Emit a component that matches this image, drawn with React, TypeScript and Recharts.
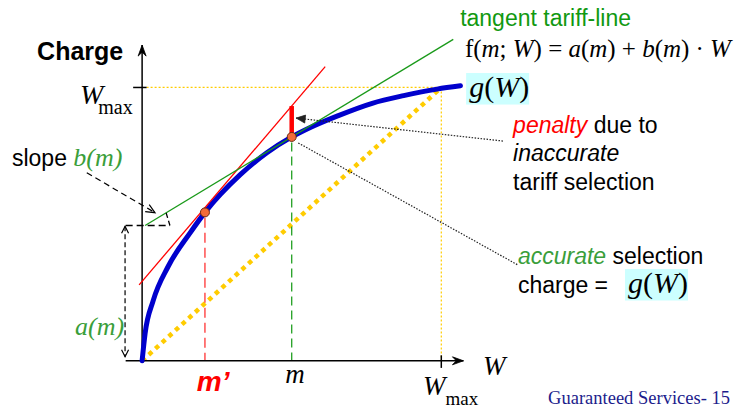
import React from 'react';
import { ComposedChart, XAxis, YAxis, Line, ReferenceLine, ReferenceDot } from 'recharts';

// Units: W and Charge both scaled so that W_max = 10
const X_DOMAIN: [number, number] = [-4.75, 19.85];
const Y_DOMAIN: [number, number] = [-1.8, 13.2];

// Accurate charge curve g(W)
const chargeW = [0, 0.1, 0.37, 0.87, 1.61, 2.1, 3.28, 4.17, 5.0, 5.55, 6.56, 7.69, 8.74, 9.86, 10.64];
const chargeG = [0, 1.0, 2.2, 3.45, 4.69, 5.43, 6.81, 7.61, 8.19, 8.5, 8.97, 9.42, 9.7, 9.94, 10.06];

const W_MAX = 10;
const M_PRIME = 2.1;
const G_M_PRIME = 5.43;
const M = 5.0;
const G_M = 8.19;
const A_M = 4.95;
const PENALTY_TOP = 9.32;

// Tangent tariff lines: [start, end]
const redTangentW = [-0.1, 6.12];
const redTangentC = [2.78, 10.76];
const greenTangentW = [0.1, 10.4];
const greenTangentC = [A_M, 11.76];

const curveData = chargeW.map((w, i) => ({ w, c: chargeG[i] }));

const SERIF = '"Liberation Serif", "Times New Roman", serif';
const SANS = '"Liberation Sans", Arial, sans-serif';
const GREEN_TEXT = '#3a9e3a';
const GREEN = '#1a9a1a';
const YELLOW = '#ffcc00';
const CYAN_BOX = '#ccffff';

type Head = 'none' | 'stealth' | 'open' | 'filled';

function headPath(x: number, y: number, ux: number, uy: number, kind: Head, len: number, half: number) {
  const bx = x - ux * len;
  const by = y - uy * len;
  const px = -uy;
  const py = ux;
  const lx = bx + px * half;
  const ly = by + py * half;
  const rx = bx - px * half;
  const ry = by - py * half;
  if (kind === 'stealth') {
    const nx = x - ux * len * 0.65;
    const ny = y - uy * len * 0.65;
    return { d: `M${x},${y} L${lx},${ly} L${nx},${ny} L${rx},${ry} Z`, filled: true };
  }
  if (kind === 'filled') {
    return { d: `M${x},${y} L${lx},${ly} L${rx},${ry} Z`, filled: true };
  }
  return { d: `M${lx},${ly} L${x},${y} L${rx},${ry}`, filled: false };
}

function arrowShape(start: Head, end: Head, len = 10, half = 4) {
  return (p: any) => {
    const { x1, y1, x2, y2, stroke, strokeWidth, strokeDasharray } = p;
    const dx = x2 - x1;
    const dy = y2 - y1;
    const L = Math.sqrt(dx * dx + dy * dy) || 1;
    const ux = dx / L;
    const uy = dy / L;
    const heads: any[] = [];
    if (end !== 'none') heads.push(headPath(x2, y2, ux, uy, end, len, half));
    if (start !== 'none') heads.push(headPath(x1, y1, -ux, -uy, start, len, half));
    return (
      <g>
        <line x1={x1} y1={y1} x2={x2} y2={y2} stroke={stroke} strokeWidth={strokeWidth} strokeDasharray={strokeDasharray} />
        {heads.map((h, i) => (
          <path
            key={i}
            d={h.d}
            fill={h.filled ? stroke : 'none'}
            stroke={stroke}
            strokeWidth={h.filled ? 0.8 : 1.2}
            strokeLinejoin="miter"
          />
        ))}
      </g>
    );
  };
}

const textAt = (render: (x: number, y: number) => React.ReactNode) => (p: any) => <g>{render(p.cx, p.cy)}</g>;

const gOfW = (x: number, y: number, size: number, boxW: number) => (
  <g>
    <rect x={x - 3} y={y - size * 0.8} width={boxW} height={size * 1.05} fill={CYAN_BOX} />
    <text x={x} y={y} fontFamily={SERIF} fontSize={size} fill="#000">
      <tspan fontStyle="italic">g</tspan>
      <tspan>(</tspan>
      <tspan fontStyle="italic">W</tspan>
      <tspan>)</tspan>
    </text>
  </g>
);

export default function App() {
  const seg = (x1: number, y1: number, x2: number, y2: number) => [
    { x: x1, y: y1 },
    { x: x2, y: y2 },
  ];
  return (
    <div style={{ position: 'absolute', left: 0, top: 0, width: 736, height: 410, background: '#fff' }}>
      <ComposedChart width={736} height={410} margin={{ top: 0, right: 0, bottom: 0, left: 0 }}>
        <XAxis type="number" dataKey="w" domain={X_DOMAIN} hide allowDataOverflow />
        <YAxis type="number" dataKey="c" domain={Y_DOMAIN} hide allowDataOverflow />

        {/* W_max guides and linear charge */}
        <ReferenceLine segment={seg(0.15, W_MAX, W_MAX, W_MAX)} stroke={YELLOW} strokeWidth={1.2} strokeDasharray="2 2" ifOverflow="visible" />
        <ReferenceLine segment={seg(W_MAX, W_MAX, W_MAX, 0)} stroke={YELLOW} strokeWidth={1.2} strokeDasharray="2 2" ifOverflow="visible" />
        <ReferenceLine segment={seg(0, 0, 9.9, 9.9)} stroke={YELLOW} strokeWidth={4.5} strokeDasharray="4.5 4.5" ifOverflow="visible" />

        {/* drop lines at m' and m */}
        <ReferenceLine segment={seg(M_PRIME, G_M_PRIME - 0.2, M_PRIME, 0)} stroke="#ff3333" strokeWidth={1.3} strokeDasharray="10 5" ifOverflow="visible" />
        <ReferenceLine segment={seg(M, G_M - 0.2, M, 0)} stroke="#22a022" strokeWidth={1.3} strokeDasharray="9 5" ifOverflow="visible" />

        {/* axes */}
        <ReferenceLine segment={seg(-0.55, 0, 10.74, 0)} stroke="#000" strokeWidth={1.5} shape={arrowShape('none', 'stealth', 11, 4)} ifOverflow="visible" />
        <ReferenceLine segment={seg(0, 0, 0, 11.55)} stroke="#000" strokeWidth={1.5} shape={arrowShape('none', 'stealth', 11, 4)} ifOverflow="visible" />
        <ReferenceLine segment={seg(-0.3, W_MAX, 0.15, W_MAX)} stroke="#000" strokeWidth={1.5} ifOverflow="visible" />
        <ReferenceLine segment={seg(W_MAX, -0.26, W_MAX, 0.2)} stroke="#000" strokeWidth={1.5} ifOverflow="visible" />

        {/* accurate charge curve */}
        <Line
          data={curveData}
          dataKey="c"
          type="monotone"
          stroke="#0000cc"
          strokeWidth={5}
          strokeLinecap="round"
          dot={false}
          activeDot={false}
          isAnimationActive={false}
        />

        {/* tangent tariff lines */}
        <ReferenceLine segment={seg(redTangentW[0], redTangentC[0], redTangentW[1], redTangentC[1])} stroke="#ff0000" strokeWidth={1.3} ifOverflow="visible" />
        <ReferenceLine segment={seg(greenTangentW[0], greenTangentC[0], greenTangentW[1], greenTangentC[1])} stroke={GREEN} strokeWidth={1.3} ifOverflow="visible" />

        {/* penalty */}
        <ReferenceLine segment={seg(M, G_M, M, PENALTY_TOP)} stroke="#ff0000" strokeWidth={4.5} ifOverflow="visible" />

        {/* a(m) and slope annotations */}
        <ReferenceLine segment={seg(-0.55, A_M, 0.93, A_M)} stroke="#000" strokeWidth={1.3} strokeDasharray="7 4" ifOverflow="visible" />
        <ReferenceLine segment={seg(0.93, A_M, 0.8, 5.42)} stroke="#000" strokeWidth={1.3} strokeDasharray="5 3" ifOverflow="visible" />
        <ReferenceLine segment={seg(-0.57, A_M - 0.03, -0.57, 0.15)} stroke="#000" strokeWidth={1.2} strokeDasharray="5 3" shape={arrowShape('open', 'open', 7, 3.5)} ifOverflow="visible" />
        <ReferenceLine segment={seg(-1.85, 6.88, 0.43, 5.42)} stroke="#000" strokeWidth={1.2} strokeDasharray="6 4" shape={arrowShape('none', 'open', 9, 4)} ifOverflow="visible" />

        {/* leaders */}
        <ReferenceLine segment={seg(12.06, 8.04, 5.15, 8.88)} stroke="#222" strokeWidth={1.2} strokeDasharray="1.5 1.5" shape={arrowShape('none', 'filled', 9, 4)} ifOverflow="visible" />
        <ReferenceLine segment={seg(5.22, 7.97, 12.57, 3.5)} stroke="#222" strokeWidth={1.2} strokeDasharray="1.5 1.5" ifOverflow="visible" />

        {/* tangent points */}
        <ReferenceDot x={M_PRIME} y={G_M_PRIME} r={4.5} fill="#f26b3a" stroke="#6b2a12" strokeWidth={1} ifOverflow="visible" />
        <ReferenceDot x={M} y={G_M} r={4.5} fill="#f26b3a" stroke="#6b2a12" strokeWidth={1} ifOverflow="visible" />

        {/* text */}
        <ReferenceDot x={-3.51} y={11.01} r={0} ifOverflow="visible" shape={textAt((x, y) => (
          <text x={x} y={y} fontFamily={SANS} fontWeight="bold" fontSize={25} fill="#000">Charge</text>
        ))} />
        <ReferenceDot x={-2.08} y={9.4} r={0} ifOverflow="visible" shape={textAt((x, y) => (
          <text x={x} y={y} fontFamily={SERIF} fill="#000">
            <tspan fontStyle="italic" fontSize={28}>W</tspan>
            <tspan fontSize={20} dx={-5} dy={10}>max</tspan>
          </text>
        ))} />
        <ReferenceDot x={9.39} y={-1.26} r={0} ifOverflow="visible" shape={textAt((x, y) => (
          <text x={x} y={y} fontFamily={SERIF} fill="#000">
            <tspan fontStyle="italic" fontSize={27}>W</tspan>
            <tspan fontSize={19} dy={10}>max</tspan>
          </text>
        ))} />
        <ReferenceDot x={11.39} y={-0.52} r={0} ifOverflow="visible" shape={textAt((x, y) => (
          <text x={x} y={y} fontFamily={SERIF} fontStyle="italic" fontSize={27} fill="#000">W</text>
        ))} />
        <ReferenceDot x={-4.35} y={7.13} r={0} ifOverflow="visible" shape={textAt((x, y) => (
          <text x={x} y={y}>
            <tspan fontFamily={SANS} fontSize={23} fill="#000">slope </tspan>
            <tspan fontFamily={SERIF} fontStyle="italic" fontSize={26} fill={GREEN_TEXT}>b(m)</tspan>
          </text>
        ))} />
        <ReferenceDot x={-2.24} y={0.94} r={0} ifOverflow="visible" shape={textAt((x, y) => (
          <text x={x} y={y} fontFamily={SERIF} fontStyle="italic" fontSize={26} fill={GREEN_TEXT}>a(m)</text>
        ))} />
        <ReferenceDot x={1.83} y={-1.1} r={0} ifOverflow="visible" shape={textAt((x, y) => (
          <text x={x} y={y} fontFamily={SANS} fontStyle="italic" fontWeight="bold" fontSize={28} fill="#ff0000">m’</text>
        ))} />
        <ReferenceDot x={4.78} y={-0.81} r={0} ifOverflow="visible" shape={textAt((x, y) => (
          <text x={x} y={y} fontFamily={SERIF} fontStyle="italic" fontSize={27} fill="#000">m</text>
        ))} />
        <ReferenceDot x={13.57} y={-1.58} r={0} ifOverflow="visible" shape={textAt((x, y) => (
          <text x={x} y={y} fontFamily={SERIF} fontSize={18.5} fill="#1c1c8c">Guaranteed Services- 15</text>
        ))} />
        <ReferenceDot x={10.63} y={12.25} r={0} ifOverflow="visible" shape={textAt((x, y) => (
          <text x={x} y={y} fontFamily={SANS} fontSize={23} fill="#119911">tangent tariff-line</text>
        ))} />
        <ReferenceDot x={10.79} y={11.12} r={0} ifOverflow="visible" shape={textAt((x, y) => (
          <text x={x} y={y} fontFamily={SERIF} fontSize={25} fill="#000" textLength={266} lengthAdjust="spacing">
            <tspan>f(</tspan>
            <tspan fontStyle="italic">m</tspan>
            <tspan>; </tspan>
            <tspan fontStyle="italic">W</tspan>
            <tspan>)  =  </tspan>
            <tspan fontStyle="italic">a</tspan>
            <tspan>(</tspan>
            <tspan fontStyle="italic">m</tspan>
            <tspan>)  +  </tspan>
            <tspan fontStyle="italic">b</tspan>
            <tspan>(</tspan>
            <tspan fontStyle="italic">m</tspan>
            <tspan>)  ·  </tspan>
            <tspan fontStyle="italic">W</tspan>
          </text>
        ))} />
        <ReferenceDot x={10.93} y={9.65} r={0} ifOverflow="visible" shape={textAt((x, y) => gOfW(x, y, 30, 63))} />
        <ReferenceDot x={12.4} y={8.34} r={0} ifOverflow="visible" shape={textAt((x, y) => (
          <text x={x} y={y} fontFamily={SANS} fontSize={23} fill="#000">
            <tspan fill="#ff0000" fontStyle="italic">penalty</tspan>
            <tspan> due to</tspan>
            <tspan x={x} dy={28.5} fontStyle="italic">inaccurate</tspan>
            <tspan x={x} dy={28.5}>tariff selection</tspan>
          </text>
        ))} />
        <ReferenceDot x={12.56} y={3.54} r={0} ifOverflow="visible" shape={textAt((x, y) => (
          <text x={x} y={y} fontFamily={SANS} fontSize={23} fill="#000">
            <tspan fill={GREEN_TEXT} fontStyle="italic">accurate</tspan>
            <tspan> selection</tspan>
            <tspan x={x} dy={28.5}>charge = </tspan>
          </text>
        ))} />
        <ReferenceDot x={16.24} y={2.48} r={0} ifOverflow="visible" shape={textAt((x, y) => gOfW(x, y, 30, 63))} />
      </ComposedChart>
    </div>
  );
}
